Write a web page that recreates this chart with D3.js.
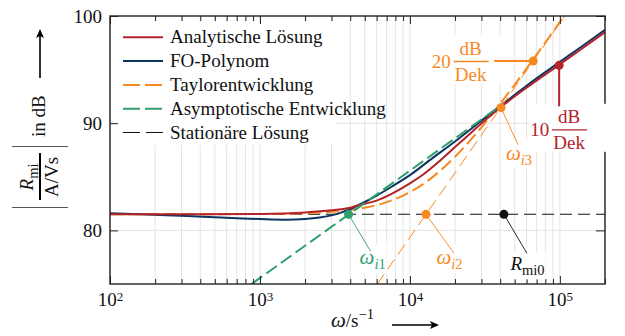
<!DOCTYPE html>
<html>
<head>
<meta charset="utf-8">
<script src="https://cdn.jsdelivr.net/npm/d3@7"></script>
<style>
  body { margin: 0; background: #fff; }
  svg { font-family: "Liberation Serif", "Times New Roman", serif; }
</style>
</head>
<body>
<svg id="chart" width="625" height="336"></svg>
<script>
// values (omega in 1/s, magnitude in dB)
const freqRed = [100, 300, 1000, 2000, 3000, 4000, 5000, 6000, 7500, 10000, 12000, 16000, 20000, 24000, 32000, 44000, 64000, 100000, 140000, 200000];
const dbRed   = [81.5, 81.5, 81.54, 81.67, 81.87, 82.12, 82.48, 82.78, 83.38, 84.38, 85.12, 86.55, 87.77, 88.77, 90.32, 91.91, 93.59, 95.49, 96.94, 98.49];

const freqFO = [100, 200, 300, 500, 700, 1000, 1500, 2000, 2500, 3000, 3500, 4000, 5000, 6000, 7500, 10000, 14000, 20000, 28000, 40000, 60000, 100000, 140000, 200000];
const dbFO   = [81.6, 81.45, 81.37, 81.23, 81.14, 81.06, 81.0, 81.06, 81.2, 81.4, 81.68, 82.0, 82.65, 83.25, 84.05, 85.15, 86.7, 88.3, 89.9, 91.6, 93.5, 95.72, 97.16, 98.71];

const freqTaylor = [100, 1000, 2000, 3000, 4000, 5000, 6000, 7000, 8000, 10000, 12800, 16000, 20000, 25000, 30000, 40000, 50000, 60000, 80000, 108000];
const dbTaylor   = [81.5, 81.53, 81.6, 81.73, 81.9, 82.12, 82.36, 82.64, 82.93, 83.57, 84.51, 85.59, 86.87, 88.33, 89.62, 91.82, 93.61, 95.11, 97.53, 100.09];

const freqAsym = [880, 37800];
const dbAsym   = [75, 91.36];

const freqTaylorSlope = [6060, 107700];
const dbTaylorSlope   = [75, 100];

const freqStat = [100, 200000];
const dbStat   = [81.5, 81.5];

const xMajor = [1e2, 1e3, 1e4, 1e5];
const yMajor = [80, 90, 100];

const omegaI1 = 3900, omegaI2 = 12800, omegaR0 = 42350, omegaI3 = 40500, dbI3 = 91.45;
const slope20 = [66400, 95.8];
const slope10 = [98900, 95.4];

const red = '#b3242a', blue = '#0e3463', orange = '#f6891f', green = '#2f9f6e', black = '#111';

const svg = d3.select('#chart');
const x = d3.scaleLog().domain([100, 2e5]).range([110, 605]);
const y = d3.scaleLinear().domain([75, 100]).range([284, 16]);
const FS = 19;

svg.append('clipPath').attr('id', 'clip')
  .append('rect').attr('x', 110).attr('y', 16).attr('width', 495).attr('height', 268);

// grid
const grid = svg.append('g').attr('stroke', '#e4e4e4').attr('stroke-width', 1);
grid.selectAll('.gx').data(x.ticks()).join('line')
  .attr('x1', d => x(d)).attr('x2', d => x(d)).attr('y1', 16).attr('y2', 284);
grid.selectAll('.gy').data([80, 90]).join('line')
  .attr('x1', 110).attr('x2', 605).attr('y1', d => y(d)).attr('y2', d => y(d));

// legend background (under curves)
svg.append('rect').attr('x', 114).attr('y', 22).attr('width', 222).attr('height', 123).attr('fill', '#fff');

const zip = (f, v) => f.map((d, i) => [d, v[i]]);
const line = d3.line().x(d => x(d[0])).y(d => y(d[1])).curve(d3.curveMonotoneX);
const plot = svg.append('g').attr('clip-path', 'url(#clip)').attr('fill', 'none');

plot.append('path').datum(zip(freqStat, dbStat)).attr('d', line)
  .attr('stroke', black).attr('stroke-width', 1.1).attr('stroke-dasharray', '12,6');
plot.append('path').datum(zip(freqTaylor, dbTaylor)).attr('d', line)
  .attr('stroke', orange).attr('stroke-width', 2).attr('stroke-dasharray', '13,5');
plot.append('path').datum(zip(freqFO, dbFO)).attr('d', line)
  .attr('stroke', blue).attr('stroke-width', 2);
plot.append('path').datum(zip(freqRed, dbRed)).attr('d', line)
  .attr('stroke', red).attr('stroke-width', 2);
plot.append('path').datum(zip(freqAsym, dbAsym)).attr('d', line)
  .attr('stroke', green).attr('stroke-width', 2).attr('stroke-dasharray', '13,5');
plot.append('path').datum(zip(freqTaylorSlope, dbTaylorSlope)).attr('d', line)
  .attr('stroke', orange).attr('stroke-width', 1).attr('stroke-dasharray', '12,6');

// axes
function styleAxis(g) {
  g.select('.domain').remove();
  g.selectAll('.tick line').attr('stroke', '#222').attr('stroke-width', 1);
  g.attr('font-family', null).attr('font-size', FS);
  g.selectAll('.tick text').attr('fill', '#111');
}
const bottom = svg.append('g').attr('transform', 'translate(0,284)')
  .call(d3.axisBottom(x).tickValues(xMajor).tickSize(-8).tickPadding(9).tickSizeOuter(0)).call(styleAxis);
bottom.selectAll('.tick text').text(null).each(function(d) {
  const t = d3.select(this);
  t.append('tspan').text('10');
  t.append('tspan').attr('dy', '-0.45em').attr('font-size', 13).text(Math.round(Math.log10(d)));
});
svg.append('g').attr('transform', 'translate(0,284)')
  .call(d3.axisBottom(x).tickValues(x.ticks().filter(d => !xMajor.includes(d))).tickSize(-5).tickFormat('').tickSizeOuter(0)).call(styleAxis);
svg.append('g').attr('transform', 'translate(0,16)')
  .call(d3.axisTop(x).tickValues(xMajor).tickSize(-8).tickFormat('').tickSizeOuter(0)).call(styleAxis);
svg.append('g').attr('transform', 'translate(0,16)')
  .call(d3.axisTop(x).tickValues(x.ticks().filter(d => !xMajor.includes(d))).tickSize(-5).tickFormat('').tickSizeOuter(0)).call(styleAxis);
svg.append('g').attr('transform', 'translate(110,0)')
  .call(d3.axisLeft(y).tickValues(yMajor).tickSize(-8).tickPadding(8).tickSizeOuter(0)).call(styleAxis);
svg.append('g').attr('transform', 'translate(605,0)')
  .call(d3.axisRight(y).tickValues(yMajor).tickSize(-9).tickFormat('').tickSizeOuter(0)).call(styleAxis);

svg.append('rect').attr('x', 110).attr('y', 16).attr('width', 495).attr('height', 268)
  .attr('fill', 'none').attr('stroke', '#222').attr('stroke-width', 1.4);

// legend
const legendItems = [
  { label: 'Analytische Lösung', color: red, dash: null, w: 2 },
  { label: 'FO-Polynom', color: blue, dash: null, w: 2 },
  { label: 'Taylorentwicklung', color: orange, dash: '17,5', w: 2 },
  { label: 'Asymptotische Entwicklung', color: green, dash: '17,5', w: 2 },
  { label: 'Stationäre Lösung', color: black, dash: '17,6', w: 1.1 }
];
const leg = svg.append('g').selectAll('g').data(legendItems).join('g')
  .attr('transform', (d, i) => `translate(0,${37.3 + i * 23.8})`);
leg.append('line').attr('x1', 123).attr('x2', 163)
  .attr('stroke', d => d.color).attr('stroke-width', d => d.w).attr('stroke-dasharray', d => d.dash);
leg.append('text').attr('x', 170).attr('y', 6).attr('font-size', FS).attr('fill', '#111').text(d => d.label);

// math-ish label helper: parts = [text, italic, 'sub'|'sup'|null]
function mathText(g, px, py, parts, color, anchor) {
  const t = g.append('text').attr('x', px).attr('y', py).attr('fill', color)
    .attr('font-size', FS).attr('text-anchor', anchor || 'start');
  let shift = 0;
  parts.forEach(([s, it, pos]) => {
    const target = pos === 'sub' ? 5 : pos === 'sup' ? -8 : 0;
    const size = pos ? 14.5 : (s === 'ω' ? 21 : FS);
    t.append('tspan').attr('dy', target - shift)
      .attr('font-style', it ? 'italic' : null)
      .attr('font-size', size).text(s);
    shift = target;
  });
  return t;
}
function whiteBehind(g, t, pad) {
  const b = t.node().getBBox();
  g.insert('rect', () => t.node()).attr('x', b.x - pad).attr('y', b.y - pad)
    .attr('width', b.width + 2 * pad).attr('height', b.height + 2 * pad).attr('fill', '#fff');
}

const ann = svg.append('g');
function pointLabel(freq, db, color, dx, dy, lx, ly, parts) {
  const px = x(freq), py = y(db);
  const g = ann.append('g');
  const t = mathText(g, px + lx, py + ly, parts, color);
  whiteBehind(g, t, 1);
  g.append('line').attr('x1', px).attr('y1', py).attr('x2', px + dx).attr('y2', py + dy)
    .attr('stroke', color).attr('stroke-width', 0.9);
  g.append('circle').attr('cx', px).attr('cy', py).attr('r', 4.5).attr('fill', color);
}
pointLabel(omegaI1, 81.5, green, 22, 37, 11, 50, [['ω', true], ['i', true, 'sub'], ['1', false, 'sub']]);
pointLabel(omegaI2, 81.5, orange, 28, 39, 10.5, 50, [['ω', true], ['i', true, 'sub'], ['2', false, 'sub']]);
pointLabel(omegaR0, 81.5, black, 23, 39, 6.5, 56, [['R', true], ['mi0', false, 'sub']]);
pointLabel(omegaI3, dbI3, orange, 17, 37, 5, 52, [['ω', true], ['i', true, 'sub'], ['3', false, 'sub']]);

// slope labels
function slopeLabel(cx, cy, num, color) {
  const g = ann.append('g');
  g.append('rect').attr('x', cx - 40).attr('y', cy - 26).attr('width', 80).attr('height', 48).attr('fill', '#fff');
  g.append('text').attr('x', cx - 20).attr('y', cy + 6.5).attr('text-anchor', 'end')
    .attr('font-size', FS).attr('fill', color).text(num);
  g.append('line').attr('x1', cx - 17).attr('x2', cx + 18).attr('y1', cy).attr('y2', cy)
    .attr('stroke', color).attr('stroke-width', 1.3);
  g.append('text').attr('x', cx).attr('y', cy - 6.5).attr('text-anchor', 'middle')
    .attr('font-size', FS).attr('fill', color).text('dB');
  g.append('text').attr('x', cx).attr('y', cy + 19.5).attr('text-anchor', 'middle')
    .attr('font-size', FS).attr('fill', color).text('Dek');
}
{
  const px = x(slope20[0]), py = y(slope20[1]);
  slopeLabel(px - 62.5, py + 0.5, '20', orange);
  ann.append('line').attr('x1', px - 39).attr('x2', px).attr('y1', py).attr('y2', py)
    .attr('stroke', orange).attr('stroke-width', 2);
  ann.append('circle').attr('cx', px).attr('cy', py).attr('r', 4.5).attr('fill', orange);
}
{
  const px = x(slope10[0]), py = y(slope10[1]);
  slopeLabel(px + 10, py + 64.5, '10', red);
  ann.append('line').attr('x1', px).attr('x2', px).attr('y1', py).attr('y2', py + 41)
    .attr('stroke', red).attr('stroke-width', 2);
  ann.append('circle').attr('cx', px).attr('cy', py).attr('r', 4.5).attr('fill', red);
}

// y-axis label (rotated)
const yl = svg.append('g').attr('transform', 'translate(40,177) rotate(-90)');
yl.append('line').attr('x1', -23).attr('x2', 24).attr('y1', 0).attr('y2', 0)
  .attr('stroke', '#000').attr('stroke-width', 2);
mathText(yl, 0, -7, [['R', true], ['mi', false, 'sub']], '#111', 'middle');
yl.append('text').attr('x', 0).attr('y', 18).attr('text-anchor', 'middle')
  .attr('font-size', FS).attr('fill', '#111').text('A/Vs');
[30.5, -30.5].forEach(v => yl.append('line').attr('x1', v).attr('x2', v).attr('y1', -28).attr('y2', 28)
  .attr('stroke', '#555').attr('stroke-width', 1));
yl.append('text').attr('x', 40).attr('y', 5).attr('font-size', FS).attr('fill', '#111').text('in dB');
yl.append('line').attr('x1', 99).attr('x2', 141).attr('y1', 0).attr('y2', 0).attr('stroke', '#000').attr('stroke-width', 1.6);
yl.append('path').attr('d', 'M148,0 L139,-4 L141,0 L139,4 Z').attr('fill', '#000');

// x-axis label
mathText(svg, 331, 327, [['ω', true], ['/s', false], ['−1', false, 'sup']], '#111');
svg.append('line').attr('x1', 392).attr('x2', 432).attr('y1', 325).attr('y2', 325).attr('stroke', '#000').attr('stroke-width', 1.6);
svg.append('path').attr('d', 'M439,325 L430,321 L432,325 L430,329 Z').attr('fill', '#000');
</script>
</body>
</html>
